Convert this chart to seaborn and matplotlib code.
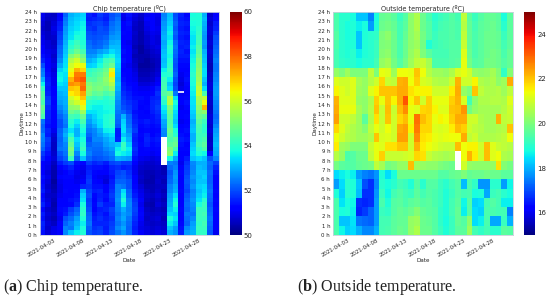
"""Chip and outside temperature heatmaps per day and hour"""

import numpy as np
import matplotlib.pyplot as plt
import seaborn as sns

nan = np.nan

date_labels = ['2021-04-03', '2021-04-08', '2021-04-13', '2021-04-18', '2021-04-23', '2021-04-28']
date_cols = [2, 7, 12, 17, 22, 27]
hour_labels = [f'{h} h' for h in range(24, -1, -1)]

# half hour rows, top row is 24 h - 23.5 h
chip_temp = [
    [51.0,50.7,50.6,51.2,52.2,53.0,53.2,53.3,51.6,51.4,51.8,51.6,52.0,52.2,51.0,51.4,50.9,50.7,51.0,51.2,51.0,52.5,53.1,52.0,51.6,51.3,53.8,53.9,53.0,50.7,51.2],
    [50.9,50.6,50.7,51.3,52.4,53.1,53.3,53.4,51.5,51.6,51.7,51.5,52.1,52.4,50.9,51.3,50.8,50.6,51.1,51.1,50.9,52.6,53.2,52.1,51.5,51.4,53.9,53.9,53.1,50.8,51.3],
    [50.8,50.5,50.8,51.5,52.5,53.2,53.4,53.6,51.7,51.8,51.9,51.7,52.3,52.5,51.1,51.4,50.7,50.5,51.0,51.2,50.9,52.7,53.3,52.2,51.6,51.5,53.8,53.9,53.0,50.7,51.5],
    [50.7,50.5,50.9,51.6,52.7,53.3,53.5,53.7,51.8,51.7,52.0,51.9,52.4,52.6,51.2,51.3,50.6,50.5,50.9,51.1,51.0,52.8,53.5,52.1,51.5,51.4,53.7,54.0,52.9,50.8,51.6],
    [50.8,50.6,50.8,51.8,52.8,53.4,53.7,53.8,52.0,51.9,52.0,52.0,52.5,52.7,51.3,51.2,50.7,50.4,50.8,51.0,50.9,52.9,53.6,52.2,51.6,51.5,53.6,54.1,52.8,50.8,51.8],
    [50.9,50.6,50.7,51.9,52.9,53.5,53.9,53.8,52.1,52.0,52.1,52.2,52.7,52.8,51.2,51.1,50.6,50.4,50.7,50.9,50.8,53.0,53.5,52.1,51.5,51.4,53.5,54.2,52.7,50.7,52.0],
    [51.0,50.8,50.6,52.0,53.0,53.8,54.2,53.9,52.3,52.1,52.2,52.4,52.9,53.0,51.2,51.0,50.6,50.4,50.7,50.9,50.8,52.9,53.7,52.3,51.6,51.5,53.5,54.3,52.8,50.8,52.1],
    [51.1,50.8,50.7,52.2,53.1,54.0,54.4,54.0,52.4,52.2,52.3,52.6,53.1,53.1,51.3,51.1,50.5,50.3,50.6,50.8,50.9,53.0,53.9,52.4,51.5,51.6,53.6,54.5,52.7,50.7,52.2],
    [51.2,50.9,50.8,52.3,53.2,54.3,54.8,54.3,52.5,52.5,52.8,53.0,53.4,53.2,51.4,51.2,50.6,50.3,50.5,50.7,50.8,53.1,53.8,52.3,51.6,51.4,53.5,54.6,53.0,50.8,52.3],
    [51.4,51.0,50.7,52.4,53.3,55.0,55.4,54.8,52.7,52.8,53.2,53.6,53.8,53.3,51.3,51.1,50.5,50.4,50.4,50.6,50.7,53.2,53.7,52.2,51.5,51.5,53.6,54.8,53.1,50.7,52.4],
    [51.6,51.1,50.8,52.6,53.4,55.6,56.0,55.2,53.0,53.2,53.6,54.2,54.4,53.4,51.4,51.1,50.6,50.4,50.3,50.5,50.6,53.1,53.9,52.1,51.4,51.4,53.7,55.0,53.2,50.6,52.5],
    [52.0,51.2,50.9,52.9,53.5,56.0,56.4,56.3,53.3,53.4,53.8,54.4,54.8,53.3,51.3,51.0,50.7,50.3,50.3,50.4,50.6,53.2,54.0,52.0,51.3,51.3,53.8,55.1,53.3,50.5,52.4],
    [52.4,51.3,50.8,53.3,53.6,56.3,57.2,56.8,54.0,54.2,54.4,54.8,56.2,53.2,51.2,51.1,50.8,50.4,50.4,50.5,50.7,53.6,54.2,52.1,51.1,51.2,53.9,55.2,53.4,50.5,52.4],
    [52.5,51.4,50.9,53.6,53.5,56.6,57.8,57.8,54.2,54.4,54.6,55.0,56.6,53.1,51.3,51.2,50.9,50.5,50.5,50.6,50.8,53.9,54.0,52.2,51.0,51.3,54.0,55.3,53.4,50.6,52.5],
    [53.0,51.5,51.0,53.7,53.4,57.2,58.0,58.2,54.6,54.5,54.8,55.2,56.0,53.0,51.4,51.2,51.0,50.6,50.6,50.7,51.0,54.2,53.6,52.0,50.9,51.4,53.9,55.4,53.2,50.7,52.6],
    [53.6,51.6,51.0,53.5,53.3,57.6,57.4,57.8,55.0,54.8,54.9,55.1,55.6,53.1,51.5,51.3,51.1,50.8,50.8,50.9,51.2,54.3,53.2,51.9,50.8,51.3,53.8,55.6,53.0,50.8,52.7],
    [54.2,51.5,51.1,53.2,53.2,57.0,56.9,58.0,55.2,54.9,55.0,54.8,55.2,53.0,51.6,51.4,51.2,51.0,51.0,51.1,51.5,54.4,53.4,52.0,50.9,51.2,53.7,55.8,53.4,50.8,52.8],
    [54.5,51.6,51.2,53.0,53.1,56.6,56.8,57.4,55.0,54.6,54.7,54.4,54.6,52.8,51.7,51.5,51.3,51.2,51.2,51.3,51.7,54.5,54.8,52.4,51.0,51.2,53.6,55.9,54.4,50.7,52.8],
    [54.6,51.8,51.3,52.9,53.0,56.0,56.4,57.0,54.4,54.2,54.3,54.0,54.2,52.7,51.8,51.6,51.4,51.4,51.3,51.5,51.6,54.2,55.6,53.4,51.2,51.3,53.5,55.6,55.8,50.8,52.7],
    [54.4,51.9,51.2,52.8,53.0,55.6,56.0,56.6,54.0,53.9,53.8,53.9,54.0,52.6,51.9,51.7,51.5,51.3,51.2,51.6,51.7,54.0,55.7,53.8,51.1,51.4,53.5,55.4,56.4,50.7,52.6],
    [54.8,51.7,51.3,52.6,52.9,55.2,55.3,56.2,53.8,53.6,53.6,53.8,53.9,52.5,52.0,51.8,51.5,51.2,51.3,51.6,51.8,53.6,55.0,53.6,51.0,51.3,53.4,55.2,57.2,50.6,52.5],
    [54.6,51.6,51.2,52.4,52.8,54.8,54.6,55.4,53.5,53.5,53.6,53.7,53.8,52.4,52.2,51.9,51.4,51.3,51.2,51.5,51.7,53.4,54.8,53.4,51.1,51.2,53.3,55.0,55.2,50.7,52.4],
    [54.4,51.6,51.1,52.2,52.6,54.3,54.2,54.8,53.0,53.3,53.6,53.9,54.0,52.3,53.0,52.2,51.5,51.3,51.3,51.4,51.6,53.2,54.6,53.3,51.1,51.3,53.2,54.8,54.6,50.8,52.3],
    [52.4,51.5,51.2,52.0,52.5,54.0,53.6,54.4,52.8,53.2,53.5,53.9,54.1,52.2,53.3,52.3,51.6,51.4,51.5,51.4,51.5,52.9,54.5,53.2,51.0,51.2,53.0,54.6,54.2,50.8,52.4],
    [52.2,51.4,51.1,52.0,52.4,53.8,53.3,54.0,52.6,52.9,53.4,53.9,54.0,52.1,53.4,52.4,51.7,51.3,51.4,51.3,51.4,52.8,54.6,53.4,51.2,51.3,53.1,54.4,54.0,50.7,52.6],
    [52.3,51.6,51.0,52.2,52.8,53.5,53.0,53.8,52.4,52.6,53.0,53.6,53.7,51.5,53.5,52.6,51.8,51.2,51.3,51.2,51.3,52.6,54.8,53.8,51.3,51.4,53.2,54.3,54.0,50.8,52.8],
    [52.6,51.5,50.8,52.3,53.0,53.9,53.0,53.6,52.2,52.5,52.8,53.2,53.4,51.5,53.2,52.8,51.6,51.3,51.5,51.2,51.4,52.5,54.6,54.0,51.4,51.3,53.0,54.2,54.2,50.7,52.9],
    [52.5,51.8,50.7,52.2,52.8,54.4,53.4,53.8,52.0,52.6,52.6,52.9,53.2,51.6,53.6,53.0,51.5,51.2,51.6,51.4,51.5,nan,54.4,54.6,51.5,51.4,53.0,54.2,54.4,50.6,53.0],
    [52.4,51.7,50.6,52.3,52.6,54.7,53.2,54.0,52.2,52.4,52.4,52.8,53.0,53.2,54.2,53.3,51.6,51.3,51.5,51.3,51.4,nan,54.6,54.8,51.4,51.2,53.2,54.3,54.6,50.7,53.1],
    [52.2,51.6,50.6,52.4,52.5,55.0,53.0,54.2,52.4,52.3,52.3,52.6,52.8,53.6,54.1,53.6,51.7,51.2,51.3,51.2,51.3,nan,55.0,54.3,51.3,51.3,53.3,54.1,54.4,50.6,53.0],
    [51.8,51.4,50.7,52.1,52.4,54.8,52.6,53.8,52.5,52.2,52.2,52.4,52.6,53.8,53.6,53.4,51.6,51.1,51.1,51.0,51.1,nan,55.2,53.6,51.2,51.2,53.4,53.9,53.7,51.2,52.9],
    [51.6,51.2,50.8,51.9,52.2,54.2,52.2,53.2,52.3,52.0,52.1,52.2,52.4,53.0,52.9,52.8,51.4,51.0,50.9,50.8,50.9,nan,53.8,52.9,51.1,51.5,53.2,53.4,53.2,52.0,52.6],
    [51.2,51.0,50.6,51.5,51.8,52.0,51.4,51.3,51.8,51.6,51.7,51.5,51.9,52.0,51.8,51.8,51.2,50.8,50.7,50.7,50.8,nan,52.5,52.4,51.0,51.7,52.6,53.0,53.0,52.3,51.9],
    [51.1,50.9,50.5,51.2,51.4,51.6,51.1,51.0,51.5,51.4,51.4,51.3,51.6,51.7,51.5,51.6,51.0,50.7,50.6,50.6,50.7,50.4,52.3,52.5,51.2,51.8,52.5,53.1,53.0,52.2,51.6],
    [51.2,50.8,50.4,51.0,51.2,51.4,51.0,50.9,51.6,51.3,51.2,51.2,51.5,51.9,52.0,51.7,51.0,50.6,50.5,50.5,50.6,50.5,52.1,52.7,51.3,51.9,52.6,53.2,53.2,52.3,51.4],
    [51.4,50.9,50.4,51.2,51.3,51.3,50.9,51.0,51.7,51.2,51.0,50.9,51.4,52.0,52.1,51.8,51.2,50.7,50.5,50.4,50.6,50.6,52.2,52.8,51.2,52.0,52.7,53.1,53.3,52.2,51.2],
    [51.3,50.8,50.3,51.0,51.1,51.2,51.0,51.2,51.8,51.3,51.2,50.8,51.5,52.2,52.2,52.0,51.2,50.6,50.4,50.4,50.7,50.5,52.3,52.7,51.1,52.1,52.6,53.2,53.2,52.2,51.1],
    [51.4,50.7,50.4,50.9,51.2,51.2,51.1,51.6,51.7,51.4,51.4,51.1,51.6,52.5,52.4,52.0,51.3,50.8,50.5,50.5,50.6,50.6,52.5,52.9,51.2,52.0,52.7,53.3,53.4,52.3,51.2],
    [51.5,50.8,50.5,50.9,51.3,51.1,51.3,53.0,51.9,51.5,51.6,51.2,51.7,52.5,53.4,52.2,51.4,50.9,50.6,50.5,50.7,50.5,52.6,53.0,51.3,51.9,52.5,53.2,53.5,52.4,51.3],
    [51.3,50.7,50.6,51.0,51.2,51.2,51.4,53.3,52.0,51.3,51.5,51.4,51.8,52.6,53.6,52.3,51.5,51.0,50.7,50.6,50.8,50.6,52.8,53.4,51.1,52.1,52.6,53.3,53.6,52.3,51.2],
    [51.4,50.8,50.5,51.2,51.1,51.4,51.5,53.5,51.8,51.2,51.6,51.3,51.7,52.7,53.9,52.5,51.7,51.1,50.6,50.5,50.7,50.5,52.9,53.7,51.2,52.2,52.7,53.5,54.0,52.2,51.3],
    [51.6,50.9,50.4,51.1,51.2,51.3,51.7,53.8,51.9,51.3,51.8,51.5,51.6,52.6,53.6,52.6,51.8,51.0,50.5,50.4,50.8,50.6,53.0,53.9,51.1,52.3,52.6,53.8,54.2,52.1,51.2],
    [51.3,50.7,50.5,51.3,51.4,51.8,52.2,54.0,52.0,51.2,51.5,51.6,51.9,52.5,53.0,52.5,51.9,51.2,50.6,50.5,50.6,50.5,53.2,53.6,51.3,52.2,52.5,54.2,54.2,52.2,51.3],
    [51.5,50.8,50.6,51.1,51.5,52.0,52.4,54.1,52.2,51.4,51.6,51.4,51.8,52.4,52.8,52.6,51.8,51.3,50.7,50.6,50.7,50.6,53.4,53.3,51.1,52.4,52.4,54.2,54.3,52.3,51.2],
    [51.4,50.7,50.5,51.0,52.0,52.3,52.8,53.9,52.3,51.5,51.7,51.5,51.7,52.5,52.9,52.4,51.7,51.1,50.6,50.7,50.8,50.5,53.8,53.5,51.2,52.3,52.6,54.2,54.2,52.4,51.1],
    [51.6,50.8,50.6,51.1,52.2,52.5,53.0,53.6,52.4,51.6,51.6,51.6,51.8,52.4,52.7,52.3,51.6,51.0,50.7,50.6,50.7,50.6,53.6,53.2,51.3,52.2,52.8,54.1,54.3,52.3,51.2],
    [51.5,50.7,50.9,51.2,52.5,52.4,53.2,53.8,52.2,51.7,51.8,51.5,51.9,52.6,52.9,52.2,51.5,50.9,50.8,50.7,50.8,50.7,53.2,52.8,51.4,52.6,52.9,54.2,54.2,52.2,51.1],
    [51.4,50.8,51.0,51.1,52.6,53.2,53.6,53.9,52.1,51.8,51.9,51.6,52.0,52.4,52.7,52.3,51.6,51.1,50.9,50.8,50.9,50.8,53.0,52.7,51.5,52.8,53.0,54.1,54.1,52.1,51.0],
]

# hourly rows, top row is 24 h - 23 h
outside_temp = [
    [19.4,19.0,19.0,18.8,18.2,18.2,17.5,18.8,19.7,19.8,19.6,19.2,19.5,20.2,20.6,19.8,19.4,19.0,19.2,19.3,19.5,19.3,20.8,19.6,19.2,19.5,19.7,19.7,19.6,18.8,19.6],
    [19.4,19.0,18.8,18.9,18.6,18.8,17.8,18.9,19.8,19.9,19.7,19.3,19.6,20.2,20.6,19.8,19.5,19.1,19.3,19.4,19.5,19.4,20.7,19.7,19.3,19.6,19.7,19.8,19.6,19.0,19.6],
    [19.5,19.0,18.8,18.9,18.2,18.9,19.0,19.1,20.0,20.2,19.8,19.3,19.7,20.2,20.5,19.9,19.5,19.2,19.4,19.4,19.5,19.4,20.8,19.7,19.4,19.6,19.8,19.8,19.7,19.2,19.6],
    [19.4,19.0,18.9,18.9,18.2,18.9,19.0,19.2,20.0,20.1,19.8,19.4,19.8,20.2,20.4,19.9,18.9,19.2,19.3,19.4,19.5,19.5,20.9,19.7,19.4,19.6,19.8,19.8,19.7,19.3,19.6],
    [19.3,19.0,18.9,19.0,18.6,18.9,19.0,19.2,20.1,20.2,19.8,19.4,19.8,20.3,20.6,20.0,19.6,19.3,19.3,19.3,19.5,19.5,21.2,19.8,19.4,19.6,19.8,19.9,19.8,19.4,19.7],
    [19.3,19.1,19.0,19.0,18.8,19.0,19.0,19.3,20.3,20.5,19.9,19.5,19.9,20.4,20.8,20.9,20.5,19.4,19.4,19.4,19.5,19.6,21.3,19.9,19.5,19.6,19.9,19.9,19.8,19.5,19.7],
    [20.3,20.0,20.4,20.0,20.0,20.0,20.8,20.0,21.3,21.2,20.4,21.4,21.4,21.3,22.0,21.4,20.7,20.4,20.4,20.3,20.6,21.1,21.3,21.0,20.3,20.2,20.3,20.5,20.1,19.1,20.1],
    [21.2,21.0,21.0,21.2,20.5,20.3,20.7,21.0,21.8,20.9,20.8,22.2,22.3,21.4,21.9,21.1,21.0,20.7,20.6,20.6,21.0,22.2,21.0,21.0,21.5,20.6,20.5,20.6,20.2,20.4,22.3],
    [21.5,21.2,21.0,21.2,20.4,20.3,21.2,21.5,22.0,22.0,22.0,22.3,22.3,21.7,21.5,21.5,21.5,21.0,21.0,21.0,21.6,22.3,20.3,20.0,22.0,20.8,20.6,20.6,20.7,20.4,20.8],
    [22.2,21.2,21.2,21.2,20.3,20.2,20.6,21.9,21.3,22.0,21.5,22.3,23.2,21.5,22.0,21.0,21.9,21.3,21.3,21.3,21.9,22.2,21.1,19.3,20.2,20.6,20.6,20.7,20.7,20.6,21.2],
    [22.3,21.3,21.3,21.3,20.5,20.2,20.7,22.0,20.9,22.1,20.9,22.1,22.6,21.3,21.2,21.8,21.9,21.5,21.2,21.2,22.0,22.1,22.5,19.9,20.3,20.5,20.5,20.5,20.5,20.7,21.0],
    [22.4,21.0,21.0,20.8,20.4,19.6,20.6,21.7,20.9,22.0,21.0,21.8,22.1,21.3,22.9,22.1,21.8,21.3,21.5,21.4,21.9,22.3,22.3,21.0,21.0,20.6,20.5,20.5,22.2,20.8,20.9],
    [21.8,21.2,20.8,20.6,20.4,20.1,20.8,21.3,21.0,21.4,21.0,22.3,22.4,21.5,22.8,21.8,21.8,21.2,21.1,21.2,21.6,22.1,21.9,21.0,20.8,20.7,20.5,20.5,20.6,20.7,22.0],
    [21.4,21.0,20.7,20.6,20.4,20.4,20.6,22.0,21.1,21.2,21.0,22.4,22.4,21.0,22.6,21.7,21.6,21.3,21.2,21.3,21.4,21.4,22.3,20.8,21.0,20.6,20.6,20.6,20.7,20.8,21.4],
    [21.6,20.4,20.3,20.0,20.0,20.0,20.9,21.3,21.2,21.7,21.7,22.0,22.0,21.0,22.2,21.6,21.4,21.2,21.0,20.9,20.9,22.1,21.4,21.5,21.5,21.0,22.1,21.2,20.9,20.8,20.7],
    [20.7,20.3,19.4,19.5,19.8,19.8,20.8,21.3,21.9,20.9,20.9,20.9,21.0,21.1,21.8,21.7,20.9,20.7,20.6,20.5,20.6,nan,21.4,22.2,21.6,21.0,22.1,21.2,21.4,20.6,20.5],
    [19.9,19.6,19.5,19.5,19.7,19.8,19.9,20.8,20.5,19.9,20.0,20.3,20.3,22.1,20.4,20.3,20.2,20.2,20.0,19.9,19.8,nan,21.0,20.3,20.2,20.2,20.2,20.3,21.7,20.1,19.9],
    [18.4,18.6,18.8,18.6,17.8,17.5,17.4,17.7,18.9,18.4,18.8,19.8,19.8,19.8,19.8,19.8,19.8,19.8,19.5,19.5,19.7,19.8,20.0,19.7,19.8,19.8,19.9,19.8,19.8,19.6,19.6],
    [17.8,18.4,19.0,18.9,18.2,17.0,16.7,17.6,19.0,18.8,19.0,19.3,19.2,18.9,19.5,19.0,19.5,19.5,19.2,19.0,19.3,19.5,18.1,19.4,19.1,17.7,17.7,19.0,19.0,17.8,18.7],
    [18.9,18.3,19.0,18.9,18.1,16.7,16.7,17.7,19.2,18.7,19.3,19.5,19.3,19.2,19.6,19.3,19.5,19.4,19.2,18.9,19.2,19.5,19.3,19.4,18.8,18.9,17.9,19.2,19.3,19.0,18.8],
    [19.4,18.5,18.8,18.7,16.7,16.6,16.7,17.8,19.4,18.9,19.5,19.6,19.4,19.6,19.7,19.5,19.6,19.4,19.2,18.9,19.3,19.6,18.7,19.5,18.3,18.4,19.3,19.5,19.3,18.6,18.6],
    [19.4,18.8,18.9,18.6,16.6,16.8,17.2,17.8,19.2,19.1,19.5,19.7,19.6,19.8,20.1,19.7,19.6,19.5,19.1,18.9,19.3,19.7,18.6,19.5,18.4,18.3,19.4,19.4,19.3,19.3,17.5],
    [19.4,18.2,18.2,18.5,17.4,17.3,17.2,17.8,19.3,19.3,19.6,19.7,19.7,20.3,20.4,19.8,19.7,19.5,19.1,18.8,19.2,19.7,19.5,20.2,18.4,18.6,19.4,17.9,17.9,19.2,18.0],
    [19.4,18.7,18.3,18.4,18.0,17.6,17.6,18.0,19.3,19.4,19.6,19.8,19.7,20.3,20.6,19.8,19.8,19.5,19.2,18.9,19.2,19.6,19.6,20.4,19.3,19.1,19.3,19.0,19.0,19.6,19.5],
]


def draw_panel(values, ax, cbar_ax, vmin, vmax, cbar_ticks, title):
    sns.heatmap(np.array(values, dtype=float), ax=ax, cbar_ax=cbar_ax, cmap='jet',
                vmin=vmin, vmax=vmax, xticklabels=False, yticklabels=False,
                cbar_kws={'ticks': cbar_ticks})
    n_rows = len(values)

    ax.set_xticks(np.array(date_cols) + 0.5)
    ax.set_xticklabels(date_labels, rotation=30, ha='right', rotation_mode='anchor', fontsize=3.9)
    ax.set_yticks(np.linspace(0, n_rows, 25))
    ax.set_yticklabels(hour_labels, rotation=0, fontsize=3.9)
    ax.tick_params(length=0, pad=2, colors='#222222')
    ax.set_xlabel('Date', fontsize=4.1, labelpad=0)
    ax.set_ylabel('Daytime', fontsize=4.1, labelpad=0.3)
    ax.set_title(title, fontsize=4.7, pad=1)
    for spine in ax.spines.values():
        spine.set_visible(True)
        spine.set_color('#c8d0dc')
        spine.set_linewidth(0.6)

    cbar_ax.tick_params(length=0, labelsize=5, pad=1.5, colors='#222222')


sns.set_style('white')
plt.rcParams['mathtext.fontset'] = 'custom'
plt.rcParams['mathtext.bf'] = 'Liberation Serif:bold'
plt.rcParams['mathtext.rm'] = 'Liberation Serif'

W, H = 550, 302
fig = plt.figure(figsize=(W / 100, H / 100), dpi=100)

bottom, height = (H - 235) / H, 223 / H
ax1 = fig.add_axes([39.5 / W, bottom, 179.5 / W, height])
cax1 = fig.add_axes([230 / W, bottom, 11.5 / W, height])
ax2 = fig.add_axes([333 / W, bottom, 180 / W, height])
cax2 = fig.add_axes([523.5 / W, bottom, 11.5 / W, height])

draw_panel(chip_temp, ax1, cax1, 50, 60, [50, 52, 54, 56, 58, 60], 'Chip temperature (ºC)')
draw_panel(outside_temp, ax2, cax2, 15, 25, [16, 18, 20, 22, 24], 'Outside temperature (ºC)')

# short gap in the chip readings, day 24 around 15.4 h
ax1.hlines(2 * (24 - 15.4), 24, 25, color='white', lw=1.2)

fig.text(3 / W, 1 - 291 / H, r'($\mathbf{a}$) Chip temperature.', family='Liberation Serif', fontsize=11.6, color='#222222')
fig.text(297 / W, 1 - 291 / H, r'($\mathbf{b}$) Outside temperature.', family='Liberation Serif', fontsize=11.6, color='#222222')

fig.savefig('out.png', dpi=100)
